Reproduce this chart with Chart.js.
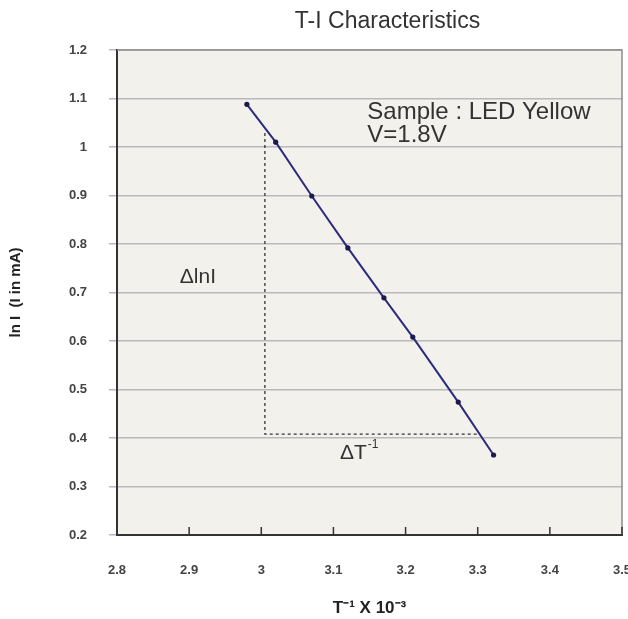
<!DOCTYPE html>
<html><head><meta charset="utf-8">
<script src="https://cdn.jsdelivr.net/npm/chart.js@4.4.1/dist/chart.umd.min.js"></script>
<style>html,body{margin:0;padding:0;background:#fff}canvas{display:block}</style>
</head><body>
<canvas id="c" width="628" height="619"></canvas>
<script>
// ---- data ----
const invT = [2.980, 3.020, 3.070, 3.120, 3.170, 3.210, 3.273, 3.322];
const lnI  = [1.088, 1.010, 0.899, 0.792, 0.689, 0.608, 0.474, 0.365];
const guideX = [3.005, 3.005, 3.303];
const guideY = [1.029, 0.408, 0.408];
const xTicks = [2.8, 2.9, 3.0, 3.1, 3.2, 3.3, 3.4, 3.5];
const yTicks = [0.2, 0.3, 0.4, 0.5, 0.6, 0.7, 0.8, 0.9, 1.0, 1.1, 1.2];
const titleText = 'T-I Characteristics';
const xTitle = 'T\u207B\u00B9 X 10\u207B\u00B3';
const yTitle = 'ln I  (I in mA)';
const noteSample = ['Sample : LED Yellow', 'V=1.8V'];
const noteDlnI = '\u0394lnI';
const noteDT = '\u0394T';
const noteDTsup = '-1';

const FONT = '"Liberation Sans", Arial, Helvetica, sans-serif';

const deco = {
  id: 'deco',
  beforeDraw(chart) {
    const {ctx, chartArea: a} = chart;
    ctx.save();
    ctx.fillStyle = '#f3f1ec';
    ctx.fillRect(a.left, a.top, a.right - a.left, a.bottom - a.top);
    ctx.restore();
  },
  beforeDatasetsDraw(chart) {
    const {ctx, chartArea: a, scales: {x}} = chart;
    ctx.save();
    // top & right frame
    ctx.strokeStyle = '#8c8c8c';
    ctx.lineWidth = 1.5;
    ctx.beginPath();
    ctx.moveTo(a.left, a.top); ctx.lineTo(a.right, a.top); ctx.lineTo(a.right, a.bottom);
    ctx.stroke();
    // inward x tick marks
    ctx.strokeStyle = '#333';
    ctx.lineWidth = 1.5;
    x.ticks.forEach((t, i) => {
      if (i === 0) return;
      const px = x.getPixelForValue(t.value);
      ctx.beginPath(); ctx.moveTo(px, a.bottom); ctx.lineTo(px, a.bottom - 8); ctx.stroke();
    });
    ctx.restore();
  },
  afterDraw(chart) {
    const {ctx, chartArea: a, scales: {x, y}} = chart;
    ctx.save();
    ctx.fillStyle = '#333';
    ctx.textBaseline = 'middle';
    ctx.textAlign = 'center';
    ctx.font = '23px ' + FONT;
    ctx.fillText(titleText, (a.left + a.right) / 2 + 18, 22);
    ctx.textAlign = 'left';
    ctx.font = '24px ' + FONT;
    ctx.fillText(noteSample[0], x.getPixelForValue(3.147), y.getPixelForValue(1.072));
    ctx.fillText(noteSample[1], x.getPixelForValue(3.147), y.getPixelForValue(1.025));
    ctx.font = '21px ' + FONT;
    ctx.fillText(noteDlnI, x.getPixelForValue(2.887), y.getPixelForValue(0.732));
    const tx = x.getPixelForValue(3.109), ty = y.getPixelForValue(0.369);
    ctx.fillText(noteDT, tx, ty);
    const w = ctx.measureText(noteDT).width;
    ctx.font = '12px ' + FONT;
    ctx.fillText(noteDTsup, tx + w + 1, ty - 8);
    ctx.restore();
  }
};

new Chart(document.getElementById('c'), {
  type: 'scatter',
  data: {
    datasets: [
      {
        data: invT.map((v, i) => ({x: v, y: lnI[i]})),
        showLine: true,
        borderColor: '#2c2c7e',
        borderWidth: 2,
        pointRadius: 2.6,
        pointBackgroundColor: '#1a1a4e',
        pointBorderColor: '#1a1a4e',
        pointBorderWidth: 0
      },
      {
        data: guideX.map((v, i) => ({x: v, y: guideY[i]})),
        showLine: true,
        borderColor: '#333',
        borderWidth: 1.3,
        borderDash: [3, 3],
        pointRadius: 0
      }
    ]
  },
  options: {
    responsive: false,
    animation: false,
    events: [],
    layout: {padding: {top: 50, right: 6, left: 0, bottom: 0}},
    plugins: {legend: {display: false}, tooltip: {enabled: false}, title: {display: false}},
    scales: {
      x: {
        type: 'linear', min: 2.8, max: 3.5,
        afterBuildTicks: s => { s.ticks = xTicks.map(v => ({value: v})); },
        afterFit: s => { s.height = 84; s.paddingRight = 0; s.paddingLeft = 0; },
        grid: {display: true, drawOnChartArea: false, drawTicks: true, tickLength: 26, tickColor: 'rgba(0,0,0,0)'},
        border: {display: true, color: '#333', width: 2},
        ticks: {
          padding: 2, color: '#444', autoSkip: false, maxRotation: 0,
          font: {family: FONT, size: 13, weight: 'bold'},
          callback: v => String(+v.toFixed(1))
        },
        title: {display: true, text: xTitle, color: '#222', padding: {top: 0, bottom: 0},
          font: {family: FONT, size: 17, weight: 'bold'}}
      },
      y: {
        type: 'linear', min: 0.2, max: 1.2,
        afterBuildTicks: s => { s.ticks = yTicks.map(v => ({value: v})); },
        afterFit: s => { s.width = 117; },
        grid: {color: '#b9b9b9', lineWidth: 1.5, tickLength: 8, drawTicks: true},
        border: {display: true, color: '#333', width: 2},
        ticks: {
          padding: 22, color: '#444', autoSkip: false,
          font: {family: FONT, size: 13, weight: 'bold'},
          callback: v => String(+v.toFixed(1))
        },
        title: {display: true, text: yTitle, color: '#222', padding: {top: 7, bottom: 0},
          font: {family: FONT, size: 15, weight: 'bold'}}
      }
    }
  },
  plugins: [deco]
});
</script>
</body></html>
